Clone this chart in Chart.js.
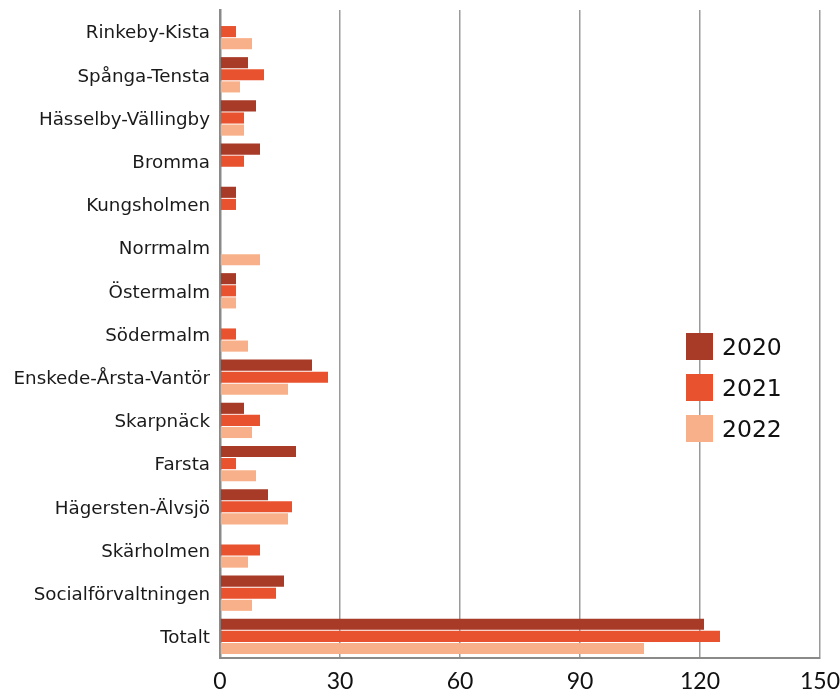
<!DOCTYPE html>
<html>
<head>
<meta charset="utf-8">
<script src="https://cdn.jsdelivr.net/npm/chart.js@4"></script>
<style>
  html, body { margin: 0; padding: 0; background: #fff; }
  #wrap { position: relative; width: 840px; height: 695px; }
  #legend { position: absolute; left: 686px; top: 333px; font-family: "DejaVu Sans", sans-serif; font-size: 23.5px; color: #111; }
  #legend .item { display: flex; align-items: center; height: 27px; margin-bottom: 14px; }
  #legend .box { width: 27px; height: 27px; margin-right: 9px; }
</style>
</head>
<body>
<div id="wrap">
  <canvas id="c" width="840" height="695"></canvas>
  <div id="legend"></div>
</div>
<script>
const categories = ["Rinkeby-Kista","Spånga-Tensta","Hässelby-Vällingby","Bromma","Kungsholmen","Norrmalm","Östermalm","Södermalm","Enskede-Årsta-Vantör","Skarpnäck","Farsta","Hägersten-Älvsjö","Skärholmen","Socialförvaltningen","Totalt"];
const seriesNames = ["2020","2021","2022"];
const values2020 = [0, 7, 9, 10, 4, 0, 4, 0, 23, 6, 19, 12, 0, 16, 121];
const values2021 = [4, 11, 6, 6, 4, 0, 4, 4, 27, 10, 4, 18, 10, 14, 125];
const values2022 = [8, 5, 6, 0, 0, 10, 4, 7, 17, 8, 9, 17, 7, 8, 106];
const xTicks = [0, 30, 60, 90, 120, 150];
const colors = ["#A83A28", "#E8522E", "#F8B08A"];

const seriesValues = [values2020, values2021, values2022];
const datasets = seriesNames.map((n, i) => ({
  label: n,
  data: seriesValues[i],
  backgroundColor: colors[i],
  borderWidth: 0,
  barPercentage: 0.92,
  categoryPercentage: 0.84
}));

const legend = document.getElementById('legend');
seriesNames.forEach((n, i) => {
  const it = document.createElement('div');
  it.className = 'item';
  it.innerHTML = '<div class="box" style="background:' + colors[i] + '"></div><span>' + n + '</span>';
  legend.appendChild(it);
});

new Chart(document.getElementById('c'), {
  type: 'bar',
  data: { labels: categories, datasets },
  options: {
    indexAxis: 'y',
    responsive: false,
    animation: false,
    layout: { padding: { top: 10, right: 20, left: 0, bottom: 0 } },
    plugins: { legend: { display: false }, tooltip: { enabled: false } },
    scales: {
      x: {
        min: 0, max: 150,
        afterBuildTicks: (s) => { s.ticks = xTicks.map(v => ({ value: v })); },
        grid: { color: '#9a9a9a', lineWidth: 1.5, drawTicks: false },
        border: { color: '#8a8a88', width: 2 },
        ticks: { color: '#111', font: { family: 'Lato', size: 23 }, padding: 10 },
        afterFit: (s) => { s.height = 37; s.paddingLeft = 0; s.paddingRight = 0; }
      },
      y: {
        grid: { display: false, drawTicks: false },
        border: { color: '#8a8a88', width: 2.5 },
        ticks: { color: '#1a1a1a', font: { family: 'DejaVu Sans', size: 18.3 }, padding: 10, labelOffset: 2 },
        afterFit: (s) => { s.width = 220; s.paddingTop = 0; s.paddingBottom = 0; }
      }
    }
  }
});
</script>
</body>
</html>
